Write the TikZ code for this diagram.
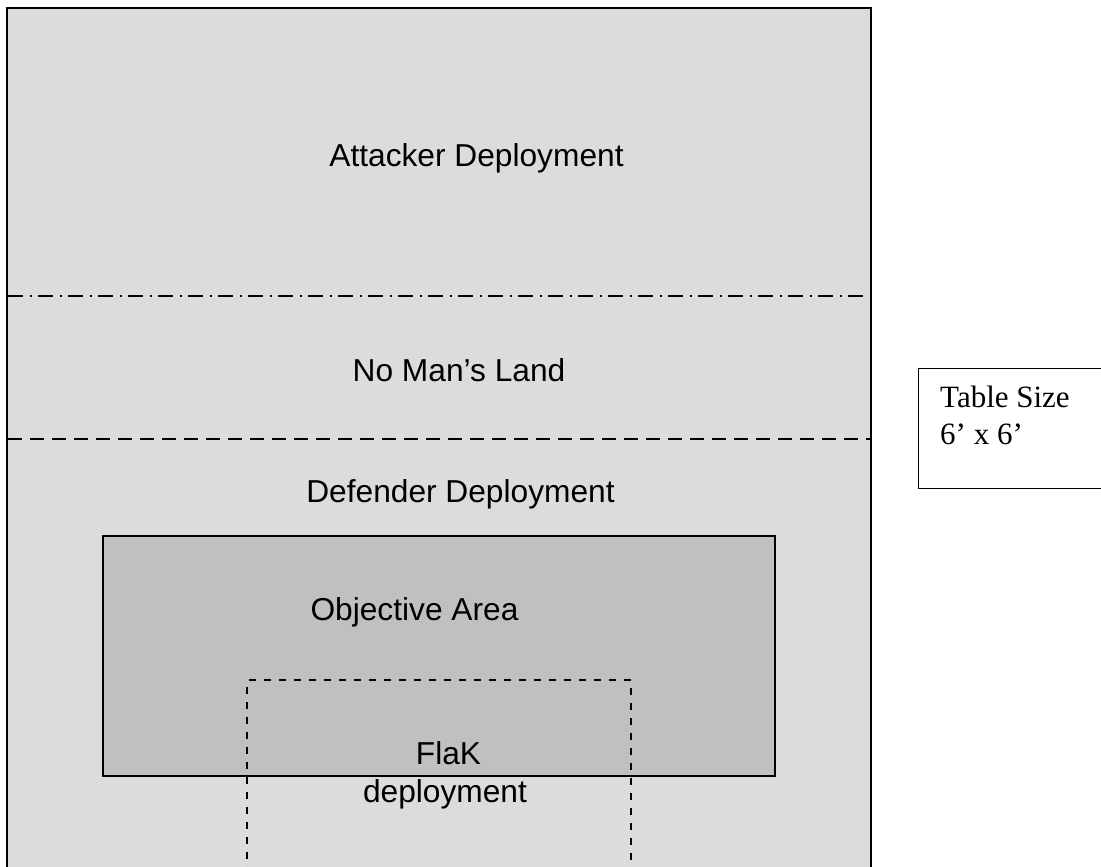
\documentclass[tikz,border=0pt]{standalone}
\usepackage{fontspec}
\setmainfont{Liberation Sans}
\newfontfamily\timesfont{Liberation Serif}
\begin{document}
\begin{tikzpicture}[x=1pt,y=-1pt,
  zone/.style={draw=black,line width=2pt,fill=zonegray},
  objbox/.style={draw=black,line width=2pt,fill=objgray},
  flakbox/.style={draw=black,line width=1.8pt,dash pattern=on 7.5pt off 7.5pt},
  dashdotline/.style={draw=black,line width=1.8pt,dash pattern=on 15pt off 6.5pt on 2pt off 6.5pt},
  dashline/.style={draw=black,line width=1.8pt,dash pattern=on 14pt off 8pt},
  lbl/.style={inner sep=0pt,anchor=base,font=\fontsize{31.7}{38}\selectfont},
  tslbl/.style={inner sep=0pt,anchor=base west,font=\timesfont\fontsize{31}{36.5}\selectfont},
  tablebox/.style={draw=black,line width=1.5pt,fill=white}]
\definecolor{zonegray}{RGB}{220,220,220}
\definecolor{objgray}{RGB}{192,192,192}
\clip (0,0) rectangle (1101,867);
\fill[white] (0,0) rectangle (1101,867);
% table area
\draw[zone] (7,8) rectangle (871,885);
% lines
\coordinate (dl1) at (8,296);
\coordinate (dr1) at (870,296);
\coordinate (dl2) at (8,439);
\coordinate (dr2) at (870,439);
\draw[dashdotline] (dl1) -- (dr1);
\draw[dashline] (dl2) -- (dr2);
% objective area
\draw[objbox] (103,536) rectangle (775,776);
% flak deployment
\draw[flakbox] (631.3,890) -- (631.3,680.3) -- (247.3,680.3) -- (247.3,890);
% labels
\node[lbl] (att) at (476.5,166) {Attacker Deployment};
\node[lbl] (nml) at (459,381) {No Man’s Land};
\node[lbl] (def) at (460.5,502) {Defender Deployment};
\node[lbl] (obj) at (414.5,620) {Objective Area};
\node[lbl] (flak) at (448.5,764) {FlaK};
\node[lbl] (dep) at (445,802) {deployment};
% table size box
\draw[tablebox] (1110,368.7) -- (918.7,368.7) -- (918.7,488.7) -- (1110,488.7);
\node[tslbl] (ts1) at (940,407.7) {Table Size};
\node[tslbl] (ts2) at (940,444) {6’ x 6’};
\end{tikzpicture}
\end{document}
